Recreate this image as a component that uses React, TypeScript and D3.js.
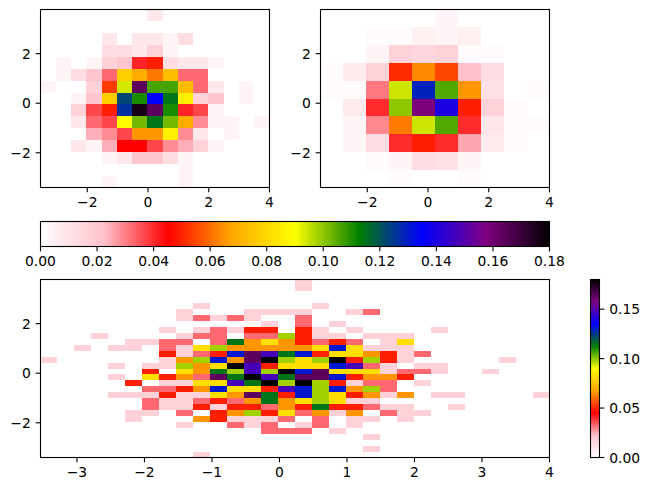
import * as d3 from "d3";

const WIDTH = 650;
const HEIGHT = 491;
const FONT = "DejaVu Sans";

// hist2d extents, same for all three panels
const X_DOMAIN: [number, number] = [-3.54, 4];
const Y_DOMAIN: [number, number] = [-3.4, 3.78];
const VMAX = 0.18;

const cmapColors = ["#ffffff", "#ffc0cb", "#ff0000", "#ffa500", "#ffff00", "#008000", "#0000ff", "#800080", "#000000"];
const cmapStops = cmapColors.map((_, i) => (i / (cmapColors.length - 1)) * VMAX);

const topXTicks = [-2, 0, 2, 4];
const bottomXTicks = [-3, -2, -1, 0, 1, 2, 3, 4];
const yTicks = [-2, 0, 2];
const horizontalBarTicks = [0, 0.02, 0.04, 0.06, 0.08, 0.1, 0.12, 0.14, 0.16, 0.18];
const verticalBarTicks = [0, 0.05, 0.1, 0.15];

// density of a single sample in the 30 x 30 panel, coarser panels scale by bin area
const DENSITY_PER_COUNT = 0.01636;

// counts, top row first
const counts15 = [
  [0, 0, 0, 0, 0, 0, 0, 2, 0, 0, 0, 0, 0, 0, 0],
  [0, 0, 0, 0, 0, 0, 0, 0, 0, 0, 0, 0, 0, 0, 0],
  [0, 0, 0, 0, 2, 0, 2, 2, 1, 3, 0, 0, 0, 0, 0],
  [0, 0, 0, 0, 3, 3, 2, 4, 1, 0, 0, 0, 0, 0, 0],
  [0, 1, 0, 1, 4, 5, 10, 12, 3, 2, 2, 1, 0, 0, 0],
  [0, 1, 3, 5, 8, 19, 17, 15, 18, 8, 8, 0, 0, 0, 0],
  [1, 0, 0, 4, 13, 23, 40, 26, 26, 18, 8, 2, 0, 1, 0],
  [0, 0, 1, 5, 19, 30, 27, 33, 28, 21, 4, 5, 0, 1, 0],
  [0, 0, 4, 9, 12, 31, 43, 40, 27, 10, 9, 1, 0, 0, 0],
  [0, 0, 2, 8, 9, 22, 25, 28, 25, 17, 7, 1, 1, 0, 1],
  [0, 0, 0, 6, 7, 9, 16, 16, 21, 7, 2, 0, 1, 0, 0],
  [0, 0, 2, 1, 6, 11, 11, 9, 7, 6, 4, 1, 0, 0, 0],
  [0, 0, 0, 0, 1, 2, 5, 5, 3, 1, 0, 0, 0, 0, 0],
  [0, 0, 0, 0, 0, 0, 0, 0, 0, 1, 0, 0, 0, 0, 0],
  [0, 0, 0, 0, 1, 0, 0, 0, 0, 1, 0, 0, 0, 0, 0],
];

const counts10 = [
  [0, 0, 0, 0, 0, 2, 0, 0, 0, 0],
  [0, 0, 1, 1, 3, 2, 3, 0, 0, 0],
  [0, 0, 2, 9, 8, 9, 1, 1, 0, 0],
  [1, 4, 9, 28, 35, 30, 12, 7, 0, 0],
  [1, 1, 17, 52, 71, 58, 36, 6, 0, 1],
  [0, 4, 22, 55, 87, 77, 27, 9, 1, 0],
  [0, 2, 16, 34, 52, 58, 22, 5, 1, 1],
  [0, 2, 7, 22, 27, 22, 14, 4, 1, 0],
  [0, 0, 1, 2, 7, 6, 2, 0, 0, 0],
  [0, 0, 0, 1, 0, 0, 1, 0, 0, 0],
];

const counts30 = [
  [0, 0, 0, 0, 0, 0, 0, 0, 0, 0, 0, 0, 0, 0, 0, 1, 0, 0, 0, 0, 0, 0, 0, 0, 0, 0, 0, 0, 0, 0],
  [0, 0, 0, 0, 0, 0, 0, 0, 0, 0, 0, 0, 0, 0, 0, 1, 0, 0, 0, 0, 0, 0, 0, 0, 0, 0, 0, 0, 0, 0],
  [0, 0, 0, 0, 0, 0, 0, 0, 0, 0, 0, 0, 0, 0, 0, 0, 0, 0, 0, 0, 0, 0, 0, 0, 0, 0, 0, 0, 0, 0],
  [0, 0, 0, 0, 0, 0, 0, 0, 0, 0, 0, 0, 0, 0, 0, 0, 0, 0, 0, 0, 0, 0, 0, 0, 0, 0, 0, 0, 0, 0],
  [0, 0, 0, 0, 0, 0, 0, 0, 0, 1, 0, 0, 0, 0, 0, 0, 1, 0, 0, 0, 0, 0, 0, 0, 0, 0, 0, 0, 0, 0],
  [0, 0, 0, 0, 0, 0, 0, 0, 1, 0, 0, 0, 1, 1, 1, 1, 0, 0, 1, 2, 0, 0, 0, 0, 0, 0, 0, 0, 0, 0],
  [0, 0, 0, 0, 0, 0, 0, 0, 1, 2, 1, 2, 1, 0, 0, 2, 0, 0, 0, 0, 0, 0, 0, 0, 0, 0, 0, 0, 0, 0],
  [0, 0, 0, 0, 0, 0, 0, 0, 0, 0, 0, 0, 0, 1, 0, 2, 0, 1, 0, 0, 0, 0, 0, 0, 0, 0, 0, 0, 0, 0],
  [0, 0, 0, 0, 0, 0, 0, 1, 0, 1, 2, 1, 3, 3, 0, 3, 1, 0, 1, 0, 0, 0, 0, 1, 0, 0, 0, 0, 0, 0],
  [0, 0, 0, 1, 0, 0, 0, 0, 1, 2, 2, 0, 2, 2, 6, 3, 1, 1, 0, 1, 1, 1, 0, 0, 0, 0, 0, 0, 0, 0],
  [0, 0, 0, 0, 0, 1, 1, 2, 2, 0, 2, 7, 4, 5, 4, 3, 2, 3, 2, 0, 1, 5, 0, 0, 0, 0, 0, 0, 0, 0],
  [0, 0, 1, 0, 1, 1, 0, 2, 1, 5, 6, 4, 4, 4, 4, 4, 5, 8, 5, 1, 1, 1, 0, 0, 0, 0, 0, 0, 0, 0],
  [0, 0, 0, 0, 0, 0, 0, 3, 1, 2, 3, 8, 10, 9, 7, 8, 3, 5, 5, 4, 3, 1, 2, 0, 0, 0, 0, 0, 0, 0],
  [1, 0, 0, 0, 0, 0, 0, 1, 4, 6, 8, 4, 10, 11, 6, 5, 6, 11, 3, 6, 3, 1, 0, 0, 0, 0, 0, 1, 0, 0],
  [0, 0, 0, 0, 1, 0, 1, 1, 6, 4, 5, 11, 9, 3, 5, 5, 5, 8, 9, 2, 1, 0, 1, 1, 0, 0, 0, 0, 0, 0],
  [0, 0, 0, 0, 0, 0, 3, 0, 5, 4, 7, 6, 9, 6, 15, 8, 10, 5, 5, 5, 1, 2, 2, 1, 0, 0, 1, 0, 0, 0],
  [0, 0, 0, 0, 1, 0, 5, 3, 4, 2, 10, 7, 11, 9, 7, 10, 10, 8, 3, 4, 4, 3, 0, 0, 0, 0, 0, 0, 0, 0],
  [0, 0, 0, 0, 0, 3, 0, 1, 1, 5, 5, 9, 7, 11, 6, 11, 6, 3, 1, 2, 2, 0, 1, 0, 0, 0, 0, 0, 0, 0],
  [0, 0, 0, 0, 0, 0, 2, 2, 3, 4, 8, 5, 5, 3, 9, 8, 6, 8, 4, 6, 2, 0, 0, 0, 0, 0, 0, 0, 0, 0],
  [0, 0, 0, 0, 1, 1, 1, 3, 1, 1, 5, 4, 10, 7, 3, 8, 6, 5, 3, 4, 1, 4, 0, 1, 1, 0, 0, 0, 0, 1],
  [0, 0, 0, 0, 0, 0, 2, 1, 1, 2, 3, 2, 4, 7, 4, 5, 6, 5, 1, 1, 0, 0, 0, 0, 0, 0, 0, 0, 0, 0],
  [0, 0, 0, 0, 0, 0, 2, 1, 1, 3, 1, 3, 3, 2, 4, 3, 7, 3, 3, 2, 1, 1, 0, 0, 1, 0, 0, 0, 0, 0],
  [0, 0, 0, 0, 0, 1, 1, 0, 2, 0, 3, 4, 6, 3, 5, 2, 4, 1, 4, 0, 2, 1, 1, 0, 0, 0, 0, 0, 0, 0],
  [0, 0, 0, 0, 0, 1, 0, 0, 0, 4, 3, 1, 1, 1, 2, 0, 2, 0, 1, 1, 0, 1, 0, 0, 0, 0, 0, 0, 0, 0],
  [0, 0, 0, 0, 0, 0, 0, 0, 1, 0, 0, 2, 1, 2, 0, 1, 2, 0, 1, 0, 0, 0, 0, 0, 0, 0, 0, 0, 0, 0],
  [0, 0, 0, 0, 0, 0, 0, 0, 0, 0, 0, 0, 0, 2, 2, 2, 0, 1, 0, 0, 0, 0, 0, 0, 0, 0, 0, 0, 0, 0],
  [0, 0, 0, 0, 0, 0, 0, 0, 0, 0, 0, 0, 0, 0, 0, 0, 0, 0, 0, 1, 0, 0, 0, 0, 0, 0, 0, 0, 0, 0],
  [0, 0, 0, 0, 0, 0, 0, 0, 0, 0, 0, 0, 0, 0, 0, 0, 0, 0, 0, 0, 0, 0, 0, 0, 0, 0, 0, 0, 0, 0],
  [0, 0, 0, 0, 0, 0, 0, 0, 0, 0, 0, 0, 0, 0, 0, 0, 0, 0, 0, 1, 0, 0, 0, 0, 0, 0, 0, 0, 0, 0],
  [0, 0, 0, 0, 0, 0, 0, 0, 0, 1, 0, 0, 0, 0, 0, 0, 0, 0, 0, 0, 0, 0, 0, 0, 0, 0, 0, 0, 0, 0],
];

const cmap = d3
  .scaleLinear<string>()
  .domain(cmapStops)
  .range(cmapColors)
  .interpolate(d3.interpolateRgb)
  .clamp(true);

const TICK = 4.86;
const PAD = 4.86;
const TEXT = { fontFamily: FONT, fontSize: 13.89, fill: "#000" };
const LINE = { stroke: "#000", strokeWidth: 1.1 };

const fmtTick = (t: number) => String(t).replace("-", "\u2212");

type HistProps = {
  counts: number[][];
  left: number;
  right: number;
  top: number;
  bottom: number;
  xTicks: number[];
};

const Hist = ({ counts, left, right, top, bottom, xTicks }: HistProps) => {
  const x = d3.scaleLinear().domain(X_DOMAIN).range([left, right]);
  const y = d3.scaleLinear().domain(Y_DOMAIN).range([bottom, top]);
  const n = counts.length;
  // coarser bins spread each sample over a bigger area
  const perCount = DENSITY_PER_COUNT * ((n * n) / (30 * 30));
  const xEdge = d3.scaleLinear().domain([0, n]).range(X_DOMAIN);
  const yEdge = d3.scaleLinear().domain([0, n]).range([Y_DOMAIN[1], Y_DOMAIN[0]]);

  return (
    <g>
      {counts.map((row, r) =>
        row.map((c, i) =>
          c > 0 ? (
            <rect
              key={`${r}-${i}`}
              x={x(xEdge(i))}
              y={y(yEdge(r))}
              width={x(xEdge(i + 1)) - x(xEdge(i))}
              height={y(yEdge(r + 1)) - y(yEdge(r))}
              fill={cmap(c * perCount)}
              shapeRendering="crispEdges"
            />
          ) : null
        )
      )}
      <rect x={left} y={top} width={right - left} height={bottom - top} fill="none" {...LINE} />
      {xTicks.map((t) => (
        <g key={t}>
          <line x1={x(t)} x2={x(t)} y1={bottom} y2={bottom + TICK} {...LINE} />
          <text x={x(t)} y={bottom + TICK + PAD + 10.2} textAnchor="middle" {...TEXT}>
            {fmtTick(t)}
          </text>
        </g>
      ))}
      {yTicks.map((t) => (
        <g key={t}>
          <line x1={left - TICK} x2={left} y1={y(t)} y2={y(t)} {...LINE} />
          <text x={left - TICK - PAD} y={y(t) + 5.1} textAnchor="end" {...TEXT}>
            {fmtTick(t)}
          </text>
        </g>
      ))}
    </g>
  );
};

const levels = d3.range(256).map((i) => (i / 256) * VMAX);

const HorizontalBar = ({ left, right, top, bottom }: { left: number; right: number; top: number; bottom: number }) => {
  const x = d3.scaleLinear().domain([0, VMAX]).range([left, right]);
  const step = (right - left) / levels.length;
  return (
    <g>
      {levels.map((v) => (
        <rect
          key={v}
          x={x(v)}
          y={top}
          width={step}
          height={bottom - top}
          fill={cmap(v + VMAX / 512)}
          shapeRendering="crispEdges"
        />
      ))}
      <rect x={left} y={top} width={right - left} height={bottom - top} fill="none" {...LINE} />
      {horizontalBarTicks.map((t) => (
        <g key={t}>
          <line x1={x(t)} x2={x(t)} y1={bottom} y2={bottom + TICK} {...LINE} />
          <text x={x(t)} y={bottom + TICK + PAD + 10.2} textAnchor="middle" {...TEXT}>
            {t.toFixed(2)}
          </text>
        </g>
      ))}
    </g>
  );
};

const VerticalBar = ({ left, right, top, bottom }: { left: number; right: number; top: number; bottom: number }) => {
  const y = d3.scaleLinear().domain([0, VMAX]).range([bottom, top]);
  const step = (bottom - top) / levels.length;
  return (
    <g>
      {levels.map((v) => (
        <rect
          key={v}
          x={left}
          y={y(v) - step}
          width={right - left}
          height={step}
          fill={cmap(v + VMAX / 512)}
          shapeRendering="crispEdges"
        />
      ))}
      <rect x={left} y={top} width={right - left} height={bottom - top} fill="none" {...LINE} />
      {verticalBarTicks.map((t) => (
        <g key={t}>
          <line x1={right} x2={right + TICK} y1={y(t)} y2={y(t)} {...LINE} />
          <text x={right + TICK + PAD} y={y(t) + 5.1} textAnchor="start" {...TEXT}>
            {t.toFixed(2)}
          </text>
        </g>
      ))}
    </g>
  );
};

export default function App() {
  return (
    <svg
      width={WIDTH}
      height={HEIGHT}
      viewBox={`0 0 ${WIDTH} ${HEIGHT}`}
      style={{ position: "absolute", left: 0, top: 0, background: "#fff" }}
    >
      <Hist counts={counts15} left={40.5} right={269.5} top={9.5} bottom={187.5} xTicks={topXTicks} />
      <Hist counts={counts10} left={320.5} right={549.5} top={9.5} bottom={187.5} xTicks={topXTicks} />
      <HorizontalBar left={40.5} right={549.5} top={221.5} bottom={246.5} />
      <Hist counts={counts30} left={40.5} right={549.5} top={279.5} bottom={457.5} xTicks={bottomXTicks} />
      <VerticalBar left={590.5} right={599.5} top={279.5} bottom={457.5} />
    </svg>
  );
}
